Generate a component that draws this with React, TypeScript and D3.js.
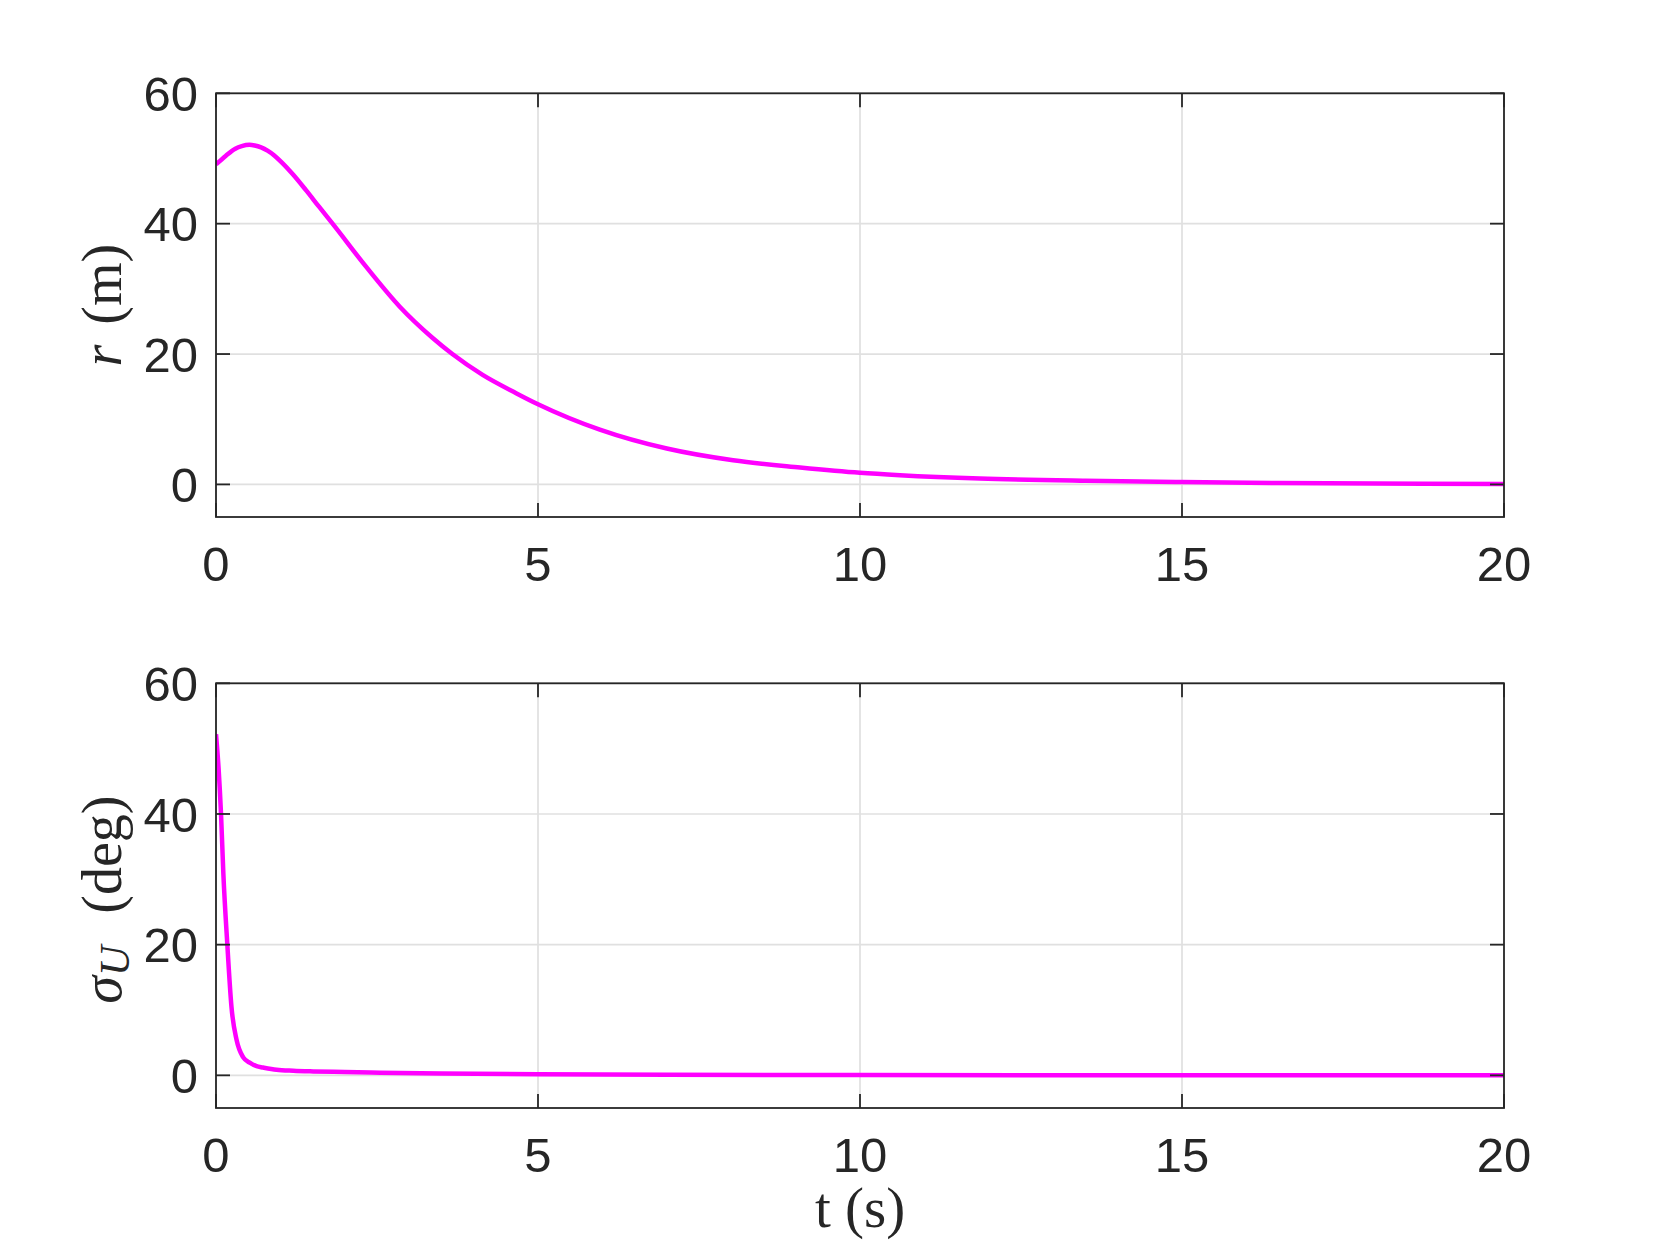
import React from "react";
import * as d3 from "d3";

// r(t) in metres
const rTime = [0, 0.15, 0.3, 0.4, 0.52, 0.6, 0.7, 0.8, 0.9, 1.0, 1.2, 1.4, 1.6, 1.81, 2.33, 2.85, 3.36, 3.67, 4.14, 4.66, 5, 5.96, 7, 8.03, 9.07, 10, 10.62, 11.86, 13.5, 15, 16.5, 18, 20];
const rValue = [49.1, 50.4, 51.5, 51.9, 52.1, 52.0, 51.7, 51.2, 50.5, 49.6, 47.5, 45.1, 42.6, 40.0, 33.4, 27.3, 22.5, 20.0, 16.8, 14.0, 12.3, 8.4, 5.5, 3.7, 2.6, 1.79, 1.42, 0.9, 0.55, 0.36, 0.22, 0.14, 0.08];

// sigma_U(t) in degrees
const sTime = [0, 0.04, 0.078, 0.114, 0.176, 0.24, 0.32, 0.42, 0.53, 0.63, 0.73, 0.94, 1.2, 1.51, 2.0, 2.55, 3.5, 5, 7, 10, 15, 20];
const sValue = [52.2, 47, 40, 30.9, 20, 10.5, 5.4, 2.8, 1.9, 1.4, 1.2, 0.85, 0.7, 0.6, 0.5, 0.4, 0.28, 0.15, 0.08, 0.04, 0.02, 0.01];

const xTicks = [0, 5, 10, 15, 20];
const yTicks = [0, 20, 40, 60];

const W = 1661;
const H = 1246;
const L = 216;
const R = 1504;
const TEXT = "#262626";
const GRID = "#e0e0e0";
const MAG = "#ff00ff";
const SANS = "'Liberation Sans', Arial, Helvetica, sans-serif";
const SERIF = "'Liberation Serif', 'Times New Roman', serif";

const x = d3.scaleLinear().domain([0, 20]).range([L, R]);

function Panel({ top, bottom, t, v, id, curve }: { top: number; bottom: number; t: number[]; v: number[]; id: string; curve: d3.CurveFactory }) {
  const y = d3.scaleLinear().domain([-5, 60]).range([bottom, top]);
  const pts = t.map((tt, i) => [tt, v[i]] as [number, number]);
  const line = d3
    .line<[number, number]>()
    .x((d) => x(d[0]))
    .y((d) => y(d[1]))
    .curve(curve);
  const tl = 14;
  return (
    <g>
      <defs>
        <clipPath id={id}>
          <rect x={L} y={top - 3} width={R - L + 2} height={bottom - top + 3} />
        </clipPath>
      </defs>
      {xTicks.map((tk) => (
        <line key={"gx" + tk} x1={x(tk)} x2={x(tk)} y1={top} y2={bottom} stroke={GRID} strokeWidth={1.7} />
      ))}
      {yTicks.map((tk) => (
        <line key={"gy" + tk} x1={L} x2={R} y1={y(tk)} y2={y(tk)} stroke={GRID} strokeWidth={1.7} />
      ))}
      <path d={line(pts) || ""} fill="none" stroke={MAG} strokeWidth={4.5} clipPath={`url(#${id})`} strokeLinejoin="round" />
      {xTicks.map((tk) => (
        <g key={"tx" + tk}>
          <line x1={x(tk)} x2={x(tk)} y1={bottom} y2={bottom - tl} stroke={TEXT} strokeWidth={1.8} />
          <line x1={x(tk)} x2={x(tk)} y1={top} y2={top + tl} stroke={TEXT} strokeWidth={1.8} />
          <text x={x(tk)} y={bottom + 64} textAnchor="middle" fontFamily={SANS} fontSize={49} fill={TEXT}>
            {tk}
          </text>
        </g>
      ))}
      {yTicks.map((tk) => (
        <g key={"ty" + tk}>
          <line x1={L} x2={L + tl} y1={y(tk)} y2={y(tk)} stroke={TEXT} strokeWidth={1.8} />
          <line x1={R} x2={R - tl} y1={y(tk)} y2={y(tk)} stroke={TEXT} strokeWidth={1.8} />
          <text x={L - 18} y={y(tk)} dy="0.36em" textAnchor="end" fontFamily={SANS} fontSize={49} fill={TEXT}>
            {tk}
          </text>
        </g>
      ))}
      <rect x={L} y={top} width={R - L} height={bottom - top} fill="none" stroke={TEXT} strokeWidth={1.8} />
    </g>
  );
}

export default function App() {
  const topTop = 93.3;
  const topBot = 517;
  const botTop = 683.3;
  const botBot = 1108;
  return (
    <svg width={W} height={H} viewBox={`0 0 ${W} ${H}`} style={{ position: "absolute", left: 0, top: 0, background: "#fff" }}>
      <rect x={0} y={0} width={W} height={H} fill="#fff" />
      <Panel top={topTop} bottom={topBot} t={rTime} v={rValue} id="clipTop" curve={d3.curveMonotoneX} />
      <Panel top={botTop} bottom={botBot} t={sTime} v={sValue} id="clipBot" curve={d3.curveMonotoneX} />
      {/* y label top */}
      <text
        transform={`translate(121, ${(topTop + topBot) / 2}) rotate(-90)`}
        textAnchor="middle"
        fontFamily={SERIF}
        fontSize={56}
        fill={TEXT}
      >
        <tspan fontStyle="italic">r</tspan>
        <tspan dx={6}> (m)</tspan>
      </text>
      {/* y label bottom */}
      <text
        transform={`translate(121, ${(botTop + botBot) / 2 + 4}) rotate(-90)`}
        textAnchor="middle"
        fontFamily={SERIF}
        fontSize={56}
        fill={TEXT}
      >
        <tspan fontStyle="italic">σ</tspan>
        <tspan fontStyle="italic" fontSize={42} dy={8}>U</tspan>
        <tspan dy={-8} dx={18}> (deg)</tspan>
      </text>
      {/* x label */}
      <text x={(L + R) / 2} y={1227} textAnchor="middle" fontFamily={SERIF} fontSize={57} fill={TEXT}>
        t (s)
      </text>
    </svg>
  );
}
